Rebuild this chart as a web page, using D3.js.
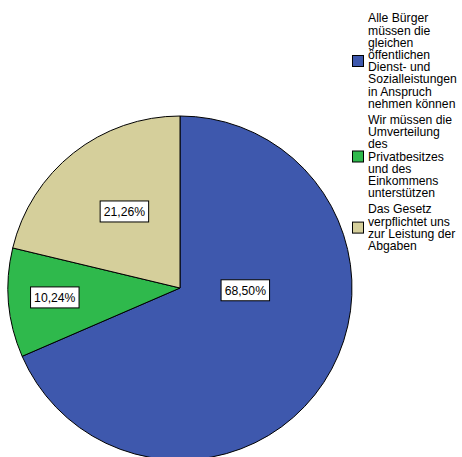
<!DOCTYPE html>
<html>
<head>
<meta charset="utf-8">
<script src="https://cdn.jsdelivr.net/npm/d3@7"></script>
<style>
	body { margin: 0; background: #fff; }
	svg { display: block; font-family: "Liberation Sans", Arial, sans-serif; }
</style>
</head>
<body>
<svg id="chart" width="462" height="457"></svg>
<script>
// categories, as wrapped in the legend
const categories = [
	"Alle Bürger\nmüssen die\ngleichen\nöffentlichen\nDienst- und\nSozialleistungen\nin Anspruch\nnehmen können",
	"Wir müssen die\nUmverteilung\ndes\nPrivatbesitzes\nund des\nEinkommens\nunterstützen",
	"Das Gesetz\nverpflichtet uns\nzur Leistung der\nAbgaben"
];
const values = [68.50, 10.24, 21.26];
const labels = ["68,50%", "10,24%", "21,26%"];
const colors = ["#3e58ad", "#2fb94c", "#d5cf9b"];

// where the value boxes sit: angle (deg, clockwise from top) and radius fraction
const labelAngle = [92, 265.7, 324];
const labelRadius = [0.38, 0.73, 0.55];

const svg = d3.select("#chart");
const cx = 180, cy = 288, r = 172;

const pie = d3.pie().sort(null).value(d => d);
const arc = d3.arc().innerRadius(0).outerRadius(r);
const arcs = pie(values);

const g = svg.append("g").attr("transform", `translate(${cx},${cy})`);

g.selectAll("path")
	.data(arcs)
	.enter().append("path")
	.attr("d", arc)
	.attr("fill", (d, i) => colors[i])
	.attr("stroke", "#000")
	.attr("stroke-width", 1)
	.attr("stroke-linejoin", "round");

// value labels in white boxes
const lab = g.selectAll("g.lab")
	.data(arcs)
	.enter().append("g")
	.attr("class", "lab")
	.attr("transform", (d, i) => {
		const a = labelAngle[i] * Math.PI / 180;
		const rr = labelRadius[i] * r;
		return `translate(${rr * Math.sin(a)},${-rr * Math.cos(a)})`;
	});

lab.append("rect");
lab.append("text")
	.attr("text-anchor", "middle")
	.attr("dy", "0.35em")
	.attr("font-size", "12.2px")
	.attr("fill", "#000")
	.text((d, i) => labels[i]);

lab.each(function() {
	const t = d3.select(this).select("text").node().getBBox();
	d3.select(this).select("rect")
		.attr("x", -t.width / 2 - 3.5)
		.attr("y", -10.5)
		.attr("width", t.width + 7)
		.attr("height", 21)
		.attr("fill", "#fff")
		.attr("stroke", "#000")
		.attr("stroke-width", 1);
});

// legend
const lineH = 12.2, blockGap = 4;
const legend = svg.append("g").attr("class", "legend");
let y = 22.3;
categories.forEach((c, i) => {
	const lines = c.split("\n");
	const item = legend.append("g");
	const txt = item.append("text")
		.attr("x", 368)
		.attr("font-size", "12.2px")
		.attr("fill", "#000");
	lines.forEach((l, k) => {
		txt.append("tspan").attr("x", 368).attr("y", y + k * lineH).text(l);
	});
	const mid = y + (lines.length - 1) * lineH / 2 - 4;
	item.append("rect")
		.attr("x", 352.5)
		.attr("y", mid - 5.5)
		.attr("width", 11)
		.attr("height", 11)
		.attr("fill", colors[i])
		.attr("stroke", "#000")
		.attr("stroke-width", 1);
	y += lines.length * lineH + blockGap;
});
</script>
</body>
</html>
